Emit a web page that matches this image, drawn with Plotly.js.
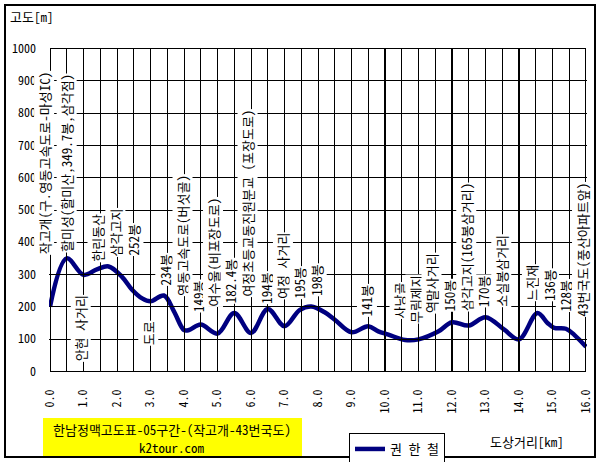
<!DOCTYPE html>
<html><head><meta charset="utf-8">
<script src="https://cdn.plot.ly/plotly-3.0.1.min.js"></script>
<style>html,body{margin:0;padding:0;background:#fff}</style>
</head><body>
<div id="chart" style="width:602px;height:462px"></div>
<script>
// ---- data ----
const distanceKm = [0.0, 0.5, 1.0, 1.4, 1.75, 2.15, 2.45, 2.75, 3.0, 3.4, 3.7, 4.0, 4.15, 4.5, 5.0, 5.5, 6.0, 6.5, 7.0, 7.45, 7.8, 8.2, 8.5, 9.0, 9.5, 9.8, 10.1, 10.6, 11.0, 11.6, 12.0, 12.5, 13.0, 13.55, 14.0, 14.55, 14.85, 15.05, 15.4, 15.65, 16.0];
const elevationM = [200, 350, 299, 316, 325, 293, 253, 226, 217, 235, 186, 128, 128, 145, 117, 181, 119, 193, 140, 190, 201, 183, 160, 121, 140, 124, 114, 97, 99, 124, 152, 142, 168, 130, 99, 181, 150, 135, 132, 113, 76];
const seriesName = '권 한 철';

const labelText = [
  '작고개(구.영동고속도로-마성IC)', '할미성(할미산,349.7봉,삼각점)', '안현 사거리', '한린동산', '삼각고지', '252봉', '도로',
  '234봉', '영동고속도로(버섯골)', '149봉', '여수울(비포장도로)', '182.4봉', '여정초등교동진원분교 (포장도로)', '194봉',
  '여정 사거리', '195봉', '198봉', '141봉', '사낭골', '무림제지', '역말사거리', '150봉', '삼각고지(165봉삼거리)',
  '170봉', '소실봉삼거리', '느진재', '136봉', '128봉', '43번국도(풍산아파트앞)'
];
const labelKm = [-0.18, 0.51, 0.92, 1.43, 1.96, 2.5, 2.94, 3.45, 3.95, 4.43, 4.88, 5.38, 5.89, 6.45, 6.96, 7.46, 7.97, 9.46, 10.44, 10.91, 11.39, 11.93, 12.43, 12.94, 13.47, 14.39, 14.9, 15.4, 15.88];
const labelElev = [361, 367, 238, 336, 352, 355, 160, 262, 231, 182, 198, 207, 228, 207, 222, 222, 231, 167, 160, 148, 176, 182, 185, 198, 198, 216, 216, 182, 167];
const labelBelow = [false, false, true, false, false, false, true, false, false, false, false, false, false, false, false, false, false, false, false, false, false, false, false, false, false, false, false, false, false];

const chartTitle = '한남정맥고도표-05구간-(작고개-43번국도)';
const siteText = 'k2tour.com';
const xTitle = '도상거리[km]';
const yTitle = '고도[m]';

// ---- layout ----
const W = 602, H = 462, ml = 49, mr = 15, mt = 48, mb = 90;
const pw = W - ml - mr, ph = H - mt - mb;
const px = v => (v - ml) / pw;          // container px -> paper x
const py = v => (H - mb - v) / ph;      // container px -> paper y
const X_MAX = 16, Y_MAX = 1000;
const X_PAD = 0.03, Y_PAD = 2;
const pxPerKm = pw / (X_MAX + 2 * X_PAD);
const xPix = v => ml + (v + X_PAD) / (X_MAX + 2 * X_PAD) * pw;          // axis value -> container px
const yPix = v => mt + ph - (v + Y_PAD) / (Y_MAX + 2 * Y_PAD) * ph;

const KR = "'Noto Sans Mono CJK KR', 'Noto Sans CJK KR', sans-serif";

// ticks: grid every 0.5 km (label every 1 km), every 100 m
const xTickVals = [], xTickText = [];
for (let k = 0; k <= 32; k++) { xTickVals.push(k / 2); xTickText.push(k % 2 ? '' : (k / 2).toFixed(1)); }
const yTickVals = [];
for (let k = 0; k <= 10; k++) yTickVals.push(k * 100);

const annotations = labelText.map((t, i) => ({
  x: Math.max(labelKm[i], 0), y: labelElev[i], xref: 'x', yref: 'y',
  xshift: labelKm[i] < 0 ? labelKm[i] * pxPerKm : 0,
  text: t, textangle: -90, showarrow: false,
  xanchor: 'center', yanchor: labelBelow[i] ? 'top' : 'bottom',
  bgcolor: '#ffffff', borderpad: 0,
  font: {family: KR, size: 13, color: '#000'}
}));

annotations.push(
  {x: px(172), y: py(430), xref: 'paper', yref: 'paper', text: chartTitle, showarrow: false,
   xanchor: 'center', yanchor: 'middle', font: {family: KR, size: 13, color: '#000'}},
  {x: px(172), y: py(447), xref: 'paper', yref: 'paper', text: siteText, showarrow: false,
   xanchor: 'center', yanchor: 'middle', font: {family: KR, size: 13, color: '#000'}},
  {x: px(527), y: py(441), xref: 'paper', yref: 'paper', text: xTitle, showarrow: false,
   xanchor: 'center', yanchor: 'middle', font: {family: KR, size: 13, color: '#000'}},
  {x: px(8), y: py(16), xref: 'paper', yref: 'paper', text: yTitle, showarrow: false,
   xanchor: 'left', yanchor: 'middle', font: {family: KR, size: 13, color: '#000'}}
);

// grid lines as 1px filled rectangles snapped to whole pixels
const gTop = Math.floor(yPix(Y_MAX)), gBot = Math.floor(yPix(0)) + 1;
const gLeft = Math.floor(xPix(0)), gRight = Math.floor(xPix(X_MAX)) + 1;
const gridShapes = [];
xTickVals.forEach(v => {
  const c = Math.floor(xPix(v));
  gridShapes.push({type: 'rect', xref: 'paper', yref: 'paper',
    x0: px(c), x1: px(c + 1), y0: py(gBot), y1: py(gTop),
    fillcolor: '#000000', line: {width: 0}});
});
yTickVals.forEach(v => {
  const r = Math.floor(yPix(v));
  gridShapes.push({type: 'rect', xref: 'paper', yref: 'paper',
    x0: px(gLeft), x1: px(gRight), y0: py(r + 1), y1: py(r),
    fillcolor: '#000000', line: {width: 0}});
});

const shapes = [
  {type: 'rect', xref: 'paper', yref: 'paper', x0: px(43), x1: px(302), y0: py(457), y1: py(418),
   fillcolor: '#ffff00', line: {width: 0}},
  {type: 'rect', xref: 'paper', yref: 'paper', x0: px(5), x1: px(595), y0: py(457), y1: py(5),
   line: {color: '#000', width: 2}}
].concat(gridShapes);

const trace = {
  x: distanceKm, y: elevationM, type: 'scatter', mode: 'lines', name: seriesName,
  line: {color: '#000080', width: 4.5, shape: 'spline', smoothing: 1}
};

const axisCommon = {
  showgrid: true, gridcolor: '#000000', gridwidth: 1, showline: false,
  ticks: '', zeroline: false, automargin: false,
  tickfont: {family: KR, size: 12, color: '#000'}
};

const layout = {
  width: W, height: H,
  margin: {l: ml, r: mr, t: mt, b: mb, pad: 0},
  paper_bgcolor: '#ffffff', plot_bgcolor: '#ffffff',
  font: {family: KR, color: '#000'},
  showlegend: true,
  legend: {xref: 'container', yref: 'container', x: 349 / W, y: 1 - 433 / H,
           xanchor: 'left', yanchor: 'top', orientation: 'h',
           bordercolor: '#000', borderwidth: 1, bgcolor: '#fff',
           font: {family: KR, size: 13, color: '#000'}},
  xaxis: Object.assign({}, axisCommon, {range: [-X_PAD, X_MAX + X_PAD], tickmode: 'array', tickvals: xTickVals,
          ticktext: xTickText, tickangle: -90, ticklabelstandoff: 14}),
  yaxis: Object.assign({}, axisCommon, {range: [-Y_PAD, Y_MAX + Y_PAD], tickmode: 'array', tickvals: yTickVals,
          ticktext: yTickVals.map(String), ticklabelstandoff: 12}),
  annotations: annotations,
  shapes: shapes
};

Plotly.newPlot('chart', [trace], layout, {displayModeBar: false});
</script>
</body></html>
